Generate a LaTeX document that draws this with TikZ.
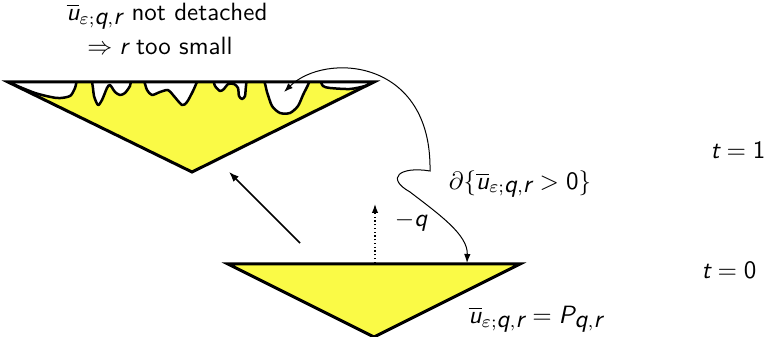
\documentclass[tikz,border=0pt]{standalone}
\usetikzlibrary{arrows.meta}
\definecolor{fillyel}{RGB}{250,250,70}
\newcommand{\sv}[1]{\textsf{\slshape #1}}
\newcommand{\ubar}{\overline{\sv{u}}_{\varepsilon;\sv{q},\sv{r}}}
\begin{document}
\begin{tikzpicture}[x=0.4pt,y=-0.4pt,
  lbl/.style={font=\sffamily, inner sep=1pt},
  tri/.style={draw=black, line width=1.2pt, line join=miter},
  wave/.style={draw=black, line width=1pt, line join=round},
  thinarr/.style={line width=0.4pt, {Latex[length=3.6pt,width=2.6pt]}-{Latex[length=3.6pt,width=2.6pt]}},
  movearr/.style={line width=0.6pt, -{Latex[length=4pt,width=3pt]}},
  dotarr/.style={line width=0.5pt, densely dotted, -{Latex[length=3.6pt,width=2.6pt]}}]
\useasboundingbox (0,0) rectangle (765,337);
% top triangle (t = 1)
\coordinate (TL) at (8,82);
\coordinate (TR) at (374,82);
\coordinate (TA) at (192,172);
\fill[fillyel] (TL) -- (TR) -- (TA) -- cycle;
\begin{scope}
  \clip (TL) -- (TR) -- (TA) -- cycle;
  \fill[white] plot[smooth, tension=0.45] coordinates {
    (8,82) (35,93) (57,98) (70,96) (75,88) (78,80) (91,80)
    (94,96) (98,105) (102,100) (107,88) (110,85) (115,92) (120,95) (125,93) (130,86) (132,80) (143,80)
    (147,90) (152,95) (160,92) (168,90) (173,95) (182,105) (187,102) (193,91) (197,82) (199,79) (212,79)
    (215,86) (220,91) (224,89) (228,84) (234,84) (238,88) (239,96) (242,99) (245,96) (246,86) (248,80) (263,80)
    (267,92) (272,106) (280,113) (290,113) (298,106) (303,95) (308,85) (311,79) (319,79)
    (323,86) (330,88) (350,89) (365,86) (374,82)} -- (374,60) -- (8,60) -- cycle;
  \draw[wave] plot[smooth, tension=0.45] coordinates {
    (8,82) (35,93) (57,98) (70,96) (75,88) (78,80) (91,80)
    (94,96) (98,105) (102,100) (107,88) (110,85) (115,92) (120,95) (125,93) (130,86) (132,80) (143,80)
    (147,90) (152,95) (160,92) (168,90) (173,95) (182,105) (187,102) (193,91) (197,82) (199,79) (212,79)
    (215,86) (220,91) (224,89) (228,84) (234,84) (238,88) (239,96) (242,99) (245,96) (246,86) (248,80) (263,80)
    (267,92) (272,106) (280,113) (290,113) (298,106) (303,95) (308,85) (311,79) (319,79)
    (323,86) (330,88) (350,89) (365,86) (374,82)};
\end{scope}
\draw[tri] (TL) -- (TR) -- (TA) -- cycle;
% bottom triangle (t = 0)
\coordinate (BL) at (228,264);
\coordinate (BR) at (520,264);
\coordinate (BA) at (374,337);
\draw[tri, fill=fillyel] (BL) -- (BR) -- (BA) -- cycle;
% arrows
\coordinate (mvS) at (300,243);
\coordinate (mvE) at (229,172);
\draw[movearr] (mvS) -- (mvE);
\coordinate (qS) at (375,263);
\coordinate (qE) at (375,204);
\draw[dotarr] (qS) -- (qE);
\coordinate (bdA) at (284,92);
\coordinate (bdK) at (430,171);
\coordinate (bdM) at (410,192);
\coordinate (bdB) at (467,263);
\draw[thinarr] (bdA) .. controls (325,52) and (432,58) .. (bdK)
  .. controls (400,166) and (385,178) .. (bdM)
  .. controls (440,215) and (468,235) .. (bdB);
% labels
\node[lbl] (l1) at (167,16) {$\ubar$ not detached};
\node[lbl] (l2) at (160,46) {$\Rightarrow \sv{r}$ too small};
\node[lbl] (lq) at (411,222) {$-\sv{q}$};
\node[lbl] (lb) at (520,184) {$\partial\{\ubar>\textsf{0}\}$};
\node[lbl] (lp) at (536,319) {$\ubar=\sv{P}_{\sv{q},\sv{r}}$};
\node[lbl] (t1) at (738,150) {$\sv{t}=\textsf{1}$};
\node[lbl] (t0) at (729,270) {$\sv{t}=\textsf{0}$};
\end{tikzpicture}
\end{document}
